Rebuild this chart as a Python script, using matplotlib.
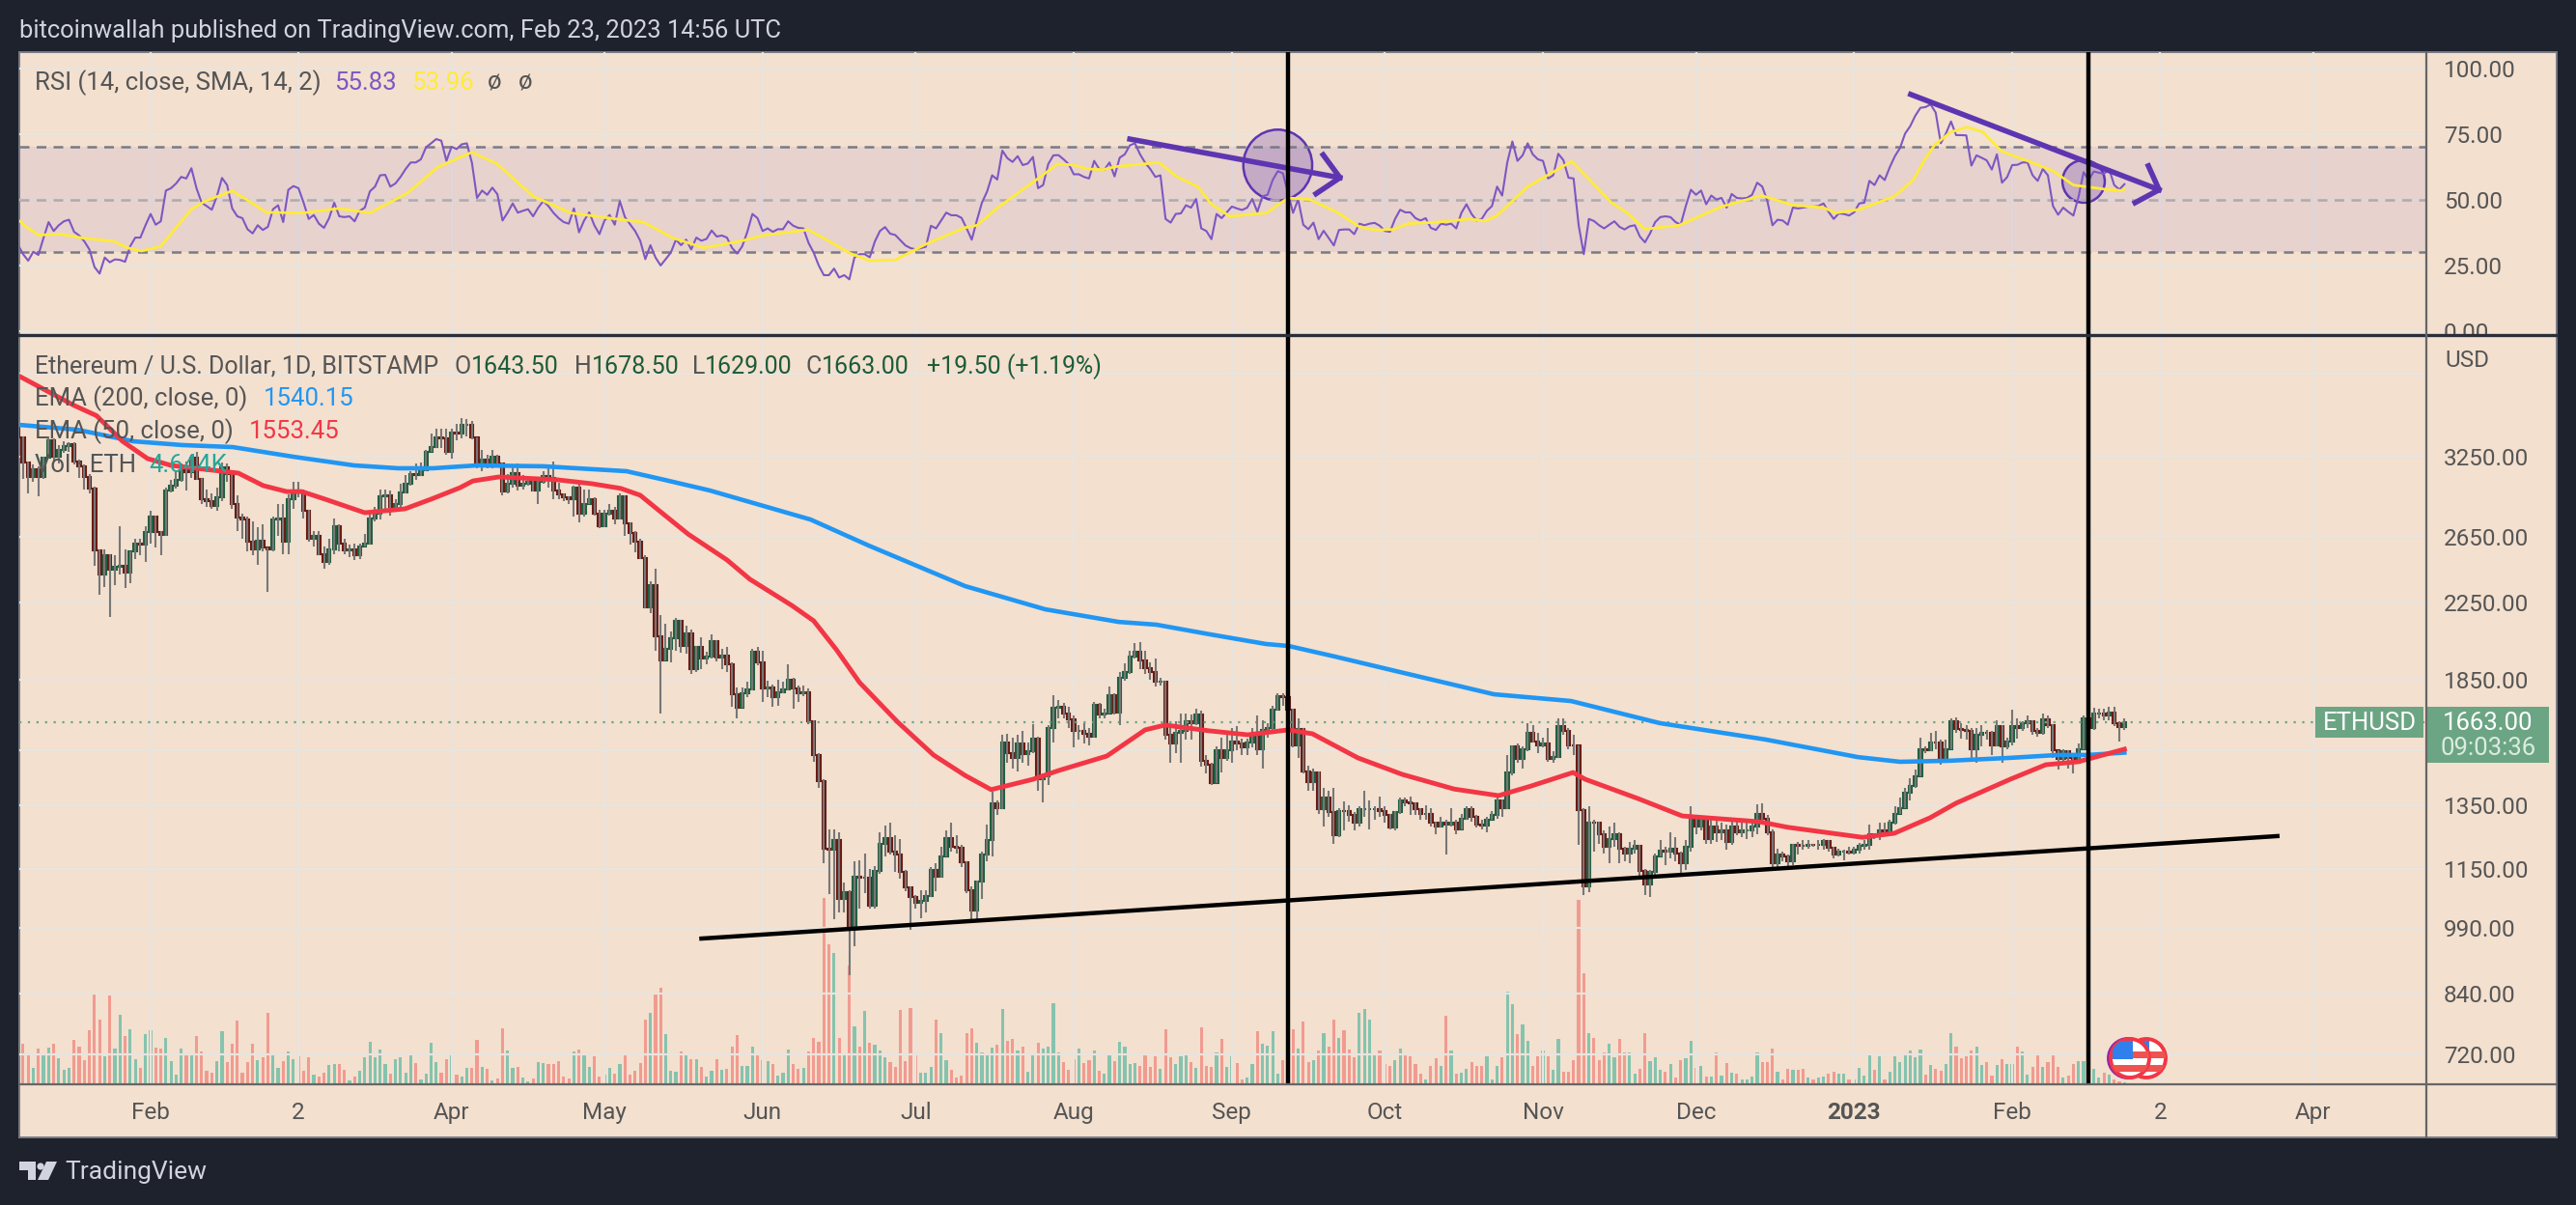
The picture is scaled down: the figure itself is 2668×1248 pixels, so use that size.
import pandas as pd
import matplotlib.pyplot as plt
from matplotlib.patches import Ellipse, Rectangle, Circle, Polygon

WIDTH, HEIGHT = 2668, 1248
DARK = '#1e222d'
PANEL = '#f3e0cf'
GRID = '#e9e4df'
TEXT = '#555555'
PURPLE = '#5e35b1'

plt.rcParams['font.family'] = 'Roboto'

# Daily candles from 2022-01-06 as (open, high, low, close)
candles = [
    (3530,3540,3300,3410),(3410,3415,3070,3200),(3200,3210,2960,3085),(3085,3180,3050,3145),(3145,3170,2940,3085),
    (3085,3250,3070,3237),(3237,3415,3230,3385),(3385,3400,3210,3245),(3245,3340,3190,3305),(3305,3375,3275,3335),
    (3335,3370,3290,3350),(3350,3365,3180,3210),(3210,3220,3080,3170),(3170,3180,2990,3085),(3085,3110,2960,2995),
    (2995,3010,2464,2565),(2565,2570,2290,2410),(2410,2570,2340,2535),(2535,2540,2170,2445),(2445,2530,2350,2460),
    (2460,2725,2415,2465),(2465,2570,2330,2425),(2425,2560,2360,2555),(2555,2640,2510,2605),(2605,2640,2530,2600),
    (2600,2725,2490,2685),(2685,2830,2610,2790),(2790,2800,2580,2685),(2685,2690,2530,2665),(2665,3000,2660,2985),
    (2985,3060,2965,3015),(3015,3130,2995,3060),(3060,3190,3050,3135),(3135,3210,2980,3125),(3125,3265,3080,3240),
    (3240,3290,3060,3070),(3070,3075,2880,2920),(2920,2990,2860,2900),(2900,2960,2850,2870),(2870,3000,2835,2930),
    (2930,3200,2905,3160),(3160,3190,3050,3110),(3110,3125,2850,2880),(2880,2942,2690,2785),(2785,2810,2640,2770),
    (2770,2790,2560,2620),(2620,2760,2535,2570),(2570,2720,2470,2630),(2630,2740,2560,2580),(2580,2585,2310,2570),
    (2570,2790,2555,2770),(2770,2880,2660,2780),(2780,2880,2540,2620),(2620,2950,2540,2920),(2920,3050,2850,2980),
    (2980,3050,2930,2965),(2965,2990,2780,2830),(2830,2840,2620,2640),(2640,2690,2590,2660),(2660,2690,2530,2540),
    (2540,2590,2447,2490),(2490,2640,2470,2572),(2572,2780,2540,2725),(2725,2740,2560,2610),(2610,2640,2540,2565),
    (2565,2600,2520,2570),(2570,2610,2500,2530),(2530,2610,2510,2590),(2590,2670,2590,2610),(2610,2810,2600,2775),
    (2775,2860,2760,2815),(2815,2990,2770,2940),(2940,2990,2830,2945),(2945,2980,2800,2860),(2860,2920,2850,2880),
    (2880,3030,2860,2965),(2965,3100,2960,3035),(3035,3130,3020,3105),(3105,3190,3060,3100),(3100,3200,3090,3135),
    (3135,3300,3130,3290),(3290,3440,3285,3325),(3325,3486,3320,3405),(3405,3485,3320,3400),(3400,3480,3260,3290),
    (3290,3480,3230,3450),(3450,3530,3380,3445),(3445,3580,3400,3515),(3515,3570,3420,3520),(3520,3550,3390,3405),
    (3405,3410,3150,3175),(3175,3300,3130,3225),(3225,3260,3150,3190),(3190,3300,3150,3250),(3250,3265,3170,3195),
    (3195,3200,2945,2973),(2973,3105,2960,3030),(3030,3180,3000,3115),(3115,3190,2980,3020),(3020,3100,2990,3030),
    (3030,3075,3015,3045),(3045,3070,2975,2985),(2985,3065,2880,3050),(3050,3130,3030,3095),(3095,3180,3000,3080),
    (3080,3210,2920,2985),(2985,3040,2920,2955),(2955,2960,2900,2930),(2930,2940,2880,2920),(2920,3020,2793,3005),
    (3005,3030,2750,2810),(2810,2990,2790,2880),(2880,2990,2880,2920),(2920,2930,2800,2810),(2810,2840,2710,2725),
    (2725,2840,2720,2815),(2815,2880,2800,2835),(2835,2860,2740,2780),(2780,2960,2770,2940),(2940,2945,2660,2745),
    (2745,2750,2600,2680),(2680,2690,2550,2620),(2620,2640,2510,2515),(2515,2530,2215,2220),(2220,2370,2190,2350),
    (2350,2450,1990,2065),(2065,2180,1700,1945),(1945,2130,1945,2000),(2000,2090,1935,2055),(2055,2165,1990,2145),
    (2145,2150,1980,2015),(2015,2120,1975,2080),(2080,2100,1880,1900),(1900,2015,1885,2010),(2010,2060,1900,1950),
    (1950,1985,1925,1960),(1960,2075,1950,2040),(2040,2045,1940,1955),(1955,2000,1900,1965),(1965,2010,1885,1925),
    (1925,1935,1728,1785),(1785,1813,1680,1725),(1725,1815,1725,1790),(1790,1840,1770,1808),(1808,2000,1800,1985),
    (1985,2010,1920,1935),(1935,1990,1750,1810),(1810,1845,1770,1815),(1815,1830,1730,1770),(1770,1850,1735,1793),
    (1793,1840,1790,1805),(1805,1925,1800,1850),(1850,1860,1720,1812),(1812,1825,1750,1787),(1787,1825,1775,1793),
    (1793,1810,1655,1665),(1665,1670,1505,1531),(1531,1540,1410,1432),(1432,1440,1166,1208),(1208,1268,1078,1205),
    (1205,1270,1012,1235),(1235,1260,1030,1065),(1065,1110,1030,1083),(1083,1090,880,994),(994,1170,945,1126),
    (1126,1175,1040,1125),(1125,1193,1080,1125),(1125,1150,1040,1048),(1048,1157,1040,1142),(1142,1260,1135,1225),
    (1225,1282,1185,1243),(1243,1290,1190,1200),(1200,1250,1140,1190),(1190,1240,1120,1140),(1140,1145,1085,1097),
    (1097,1100,985,1070),(1070,1075,1040,1055),(1055,1090,1015,1060),(1060,1090,1030,1072),(1072,1155,1070,1145),
    (1145,1165,1085,1127),(1127,1215,1125,1187),(1187,1265,1185,1243),(1243,1290,1200,1215),(1215,1250,1195,1213),
    (1213,1220,1155,1168),(1168,1170,1080,1090),(1090,1100,1002,1035),(1035,1115,1005,1112),(1112,1200,1065,1190),
    (1190,1285,1170,1237),(1237,1395,1185,1354),(1354,1365,1315,1340),(1340,1610,1335,1580),(1580,1615,1500,1540),
    (1540,1600,1480,1520),(1520,1610,1470,1577),(1577,1625,1500,1535),(1535,1580,1490,1545),(1545,1655,1540,1595),
    (1595,1605,1400,1440),(1440,1460,1360,1450),(1450,1650,1420,1637),(1637,1780,1580,1725),(1725,1760,1680,1730),
    (1730,1745,1680,1700),(1700,1730,1640,1673),(1673,1690,1560,1625),(1625,1650,1590,1625),(1625,1660,1575,1615),
    (1615,1640,1570,1605),(1605,1750,1600,1738),(1738,1745,1680,1697),(1697,1720,1680,1700),(1700,1820,1700,1780),
    (1780,1790,1695,1705),(1705,1885,1650,1860),(1860,1930,1845,1885),(1885,1990,1880,1960),(1960,2030,1950,1985),
    (1985,2035,1900,1945),(1945,1990,1880,1905),(1905,1935,1850,1885),(1885,1954,1820,1840),(1840,1860,1825,1840),
    (1840,1845,1590,1610),(1610,1640,1500,1577),(1577,1665,1540,1620),(1620,1700,1500,1627),(1627,1700,1590,1665),
    (1665,1695,1590,1660),(1660,1720,1650,1695),(1695,1710,1485,1510),(1510,1530,1460,1495),(1495,1500,1420,1425),
    (1425,1565,1425,1550),(1550,1600,1465,1520),(1520,1620,1510,1550),(1550,1640,1500,1585),(1585,1645,1550,1575),
    (1575,1595,1530,1560),(1560,1595,1530,1580),(1580,1640,1560,1615),(1615,1690,1530,1555),(1555,1670,1480,1630),
    (1630,1660,1600,1640),(1640,1735,1625,1715),(1715,1790,1710,1775),(1775,1790,1735,1770),(1770,1780,1690,1715),
    (1715,1720,1560,1570),(1570,1680,1520,1635),(1635,1640,1460,1470),(1470,1490,1400,1430),(1430,1480,1400,1465),
    (1465,1470,1320,1335),(1335,1410,1280,1375),(1375,1400,1310,1325),(1325,1410,1225,1250),(1250,1340,1245,1330),
    (1330,1362,1265,1328),(1328,1350,1295,1315),(1315,1325,1265,1290),(1290,1345,1280,1335),(1335,1400,1310,1335),
    (1335,1365,1270,1335),(1335,1345,1300,1335),(1335,1380,1310,1330),(1330,1345,1290,1315),(1315,1320,1270,1275),
    (1275,1330,1265,1325),(1325,1375,1320,1365),(1365,1375,1345,1358),(1358,1380,1315,1355),(1355,1360,1315,1335),
    (1335,1340,1300,1320),(1320,1350,1300,1320),(1320,1340,1280,1290),(1290,1295,1255,1277),(1277,1310,1275,1290),
    (1290,1300,1190,1285),(1285,1340,1280,1290),(1290,1300,1255,1270),(1270,1320,1270,1305),(1305,1345,1300,1335),
    (1335,1345,1295,1310),(1310,1315,1275,1285),(1285,1300,1270,1283),(1283,1310,1260,1300),(1300,1330,1300,1315),
    (1315,1375,1305,1365),(1365,1370,1310,1340),(1340,1530,1335,1465),(1465,1570,1455,1565),(1565,1575,1500,1515),
    (1515,1565,1480,1555),(1555,1660,1545,1620),(1620,1650,1580,1585),(1585,1620,1540,1570),(1570,1600,1560,1575),
    (1575,1640,1505,1515),(1515,1545,1500,1525),(1525,1680,1520,1645),(1645,1680,1610,1625),(1625,1640,1555,1568),
    (1568,1610,1530,1567),(1567,1570,1220,1333),(1333,1340,1075,1100),(1100,1345,1083,1292),(1292,1300,1200,1290),
    (1290,1295,1225,1255),(1255,1265,1195,1215),(1215,1280,1165,1240),(1240,1290,1215,1255),(1255,1260,1165,1210),
    (1210,1215,1170,1195),(1195,1230,1165,1210),(1210,1235,1195,1217),(1217,1220,1130,1142),(1142,1150,1075,1105),
    (1105,1145,1070,1140),(1140,1195,1130,1185),(1185,1235,1185,1204),(1204,1215,1160,1200),(1200,1260,1180,1208),
    (1208,1245,1170,1195),(1195,1200,1130,1165),(1165,1235,1145,1215),(1215,1345,1200,1300),(1300,1305,1255,1280),
    (1280,1310,1265,1300),(1300,1310,1225,1240),(1240,1300,1225,1280),(1280,1300,1230,1260),(1260,1290,1235,1265),
    (1265,1285,1205,1230),(1230,1295,1220,1280),(1280,1300,1250,1260),(1260,1295,1245,1265),(1265,1290,1240,1265),
    (1265,1295,1245,1280),(1280,1352,1255,1320),(1320,1355,1290,1305),(1305,1315,1250,1260),(1260,1270,1150,1165),
    (1165,1210,1155,1190),(1190,1200,1170,1187),(1187,1190,1150,1170),(1170,1225,1160,1220),(1220,1230,1190,1218),
    (1218,1235,1205,1217),(1217,1235,1210,1222),(1222,1225,1215,1220),(1220,1235,1205,1222),(1222,1240,1205,1233),
    (1233,1237,1200,1212),(1212,1215,1180,1190),(1190,1210,1185,1200),(1200,1205,1175,1200),(1200,1215,1190,1197),
    (1197,1215,1190,1205),(1205,1226,1195,1218),(1218,1235,1205,1220),(1220,1285,1205,1253),(1253,1258,1240,1252),
    (1252,1290,1235,1265),(1265,1290,1250,1262),(1262,1300,1260,1290),(1290,1345,1285,1320),(1320,1375,1320,1340),
    (1340,1410,1340,1392),(1392,1445,1365,1417),(1417,1475,1410,1450),(1450,1600,1450,1555),(1555,1565,1540,1550),
    (1550,1620,1545,1580),(1580,1625,1555,1578),(1578,1590,1495,1510),(1510,1590,1500,1555),(1555,1680,1555,1665),
    (1665,1685,1620,1635),(1635,1660,1595,1630),(1630,1650,1590,1625),(1625,1640,1520,1555),(1555,1640,1500,1610),
    (1610,1650,1565,1620),(1620,1630,1590,1618),(1618,1625,1530,1570),(1570,1670,1565,1645),(1645,1650,1500,1565),
    (1565,1600,1555,1585),(1585,1717,1570,1645),(1645,1680,1595,1640),(1640,1665,1625,1660),(1660,1690,1640,1665),
    (1665,1670,1610,1625),(1625,1640,1605,1620),(1620,1700,1610,1675),(1675,1690,1640,1650),(1650,1655,1520,1550),
    (1550,1550,1475,1515),(1515,1555,1510,1545),(1545,1550,1480,1520),(1520,1530,1460,1500),(1500,1575,1500,1555),
    (1555,1690,1555,1680),(1680,1742,1625,1640),(1640,1725,1630,1700),(1700,1720,1680,1700),(1700,1720,1670,1692),
    (1692,1730,1670,1705),(1705,1730,1645,1660),(1660,1665,1585,1643.5),(1643.5,1678.5,1629,1663),
]

# Volume in thousands of ETH, one value per candle
volume = [
    107,84,65,34,74,65,77,84,54,31,
    34,93,79,51,112,189,135,59,185,74,
    144,100,114,53,34,105,112,77,74,96,
    49,21,74,65,62,100,68,28,25,48,
    111,47,84,133,25,47,84,51,56,149,
    65,34,48,68,53,59,28,56,21,16,
    25,40,42,42,31,9,16,28,56,88,
    56,72,42,23,53,56,25,62,44,11,
    23,86,47,25,53,60,20,16,35,34,
    93,37,33,9,12,116,70,34,37,14,
    7,12,47,44,42,42,48,16,12,68,
    72,65,37,59,16,21,34,23,42,60,
    21,28,44,135,149,186,200,105,28,26,
    68,62,53,53,37,17,28,53,31,33,
    79,102,39,39,79,62,51,48,42,19,
    25,72,42,33,34,68,96,88,386,290,
    272,96,62,246,121,79,152,86,82,70,
    56,47,37,155,48,158,65,25,25,37,
    135,107,51,30,14,19,106,117,87,66,
    63,76,83,157,90,94,71,78,27,62,
    86,74,78,168,67,46,30,52,74,45,
    51,71,29,22,64,48,88,78,42,44,
    38,63,36,58,32,114,56,42,59,60,
    46,34,118,38,36,66,94,36,58,44,
    10,14,42,110,84,80,110,22,50,70,
    114,74,130,46,50,70,106,78,134,96,
    112,72,56,149,156,134,64,70,43,38,
    50,74,62,58,43,22,10,38,54,38,
    142,71,22,24,32,46,38,38,59,11,
    38,56,193,166,104,124,90,38,59,71,
    58,30,94,26,27,51,382,230,106,96,
    51,67,84,56,94,66,67,22,32,106,
    48,56,30,26,42,15,50,54,90,34,
    39,16,16,67,19,44,24,22,10,10,
    16,66,46,46,74,26,11,32,30,30,
    32,14,10,14,16,22,27,22,23,10,
    11,34,19,62,31,58,11,26,59,46,
    62,71,57,72,20,40,32,28,43,106,
    79,55,58,70,78,40,47,18,40,52,
    43,42,79,68,20,36,62,36,47,62,
    36,14,19,43,49,49,51,32,14,24,
    20,11,7,4,
]

rsi = [
    32.8,29.2,26.7,30.1,28.9,35.3,41.4,38,40.2,41.7,
    42.3,37.7,36.3,34.1,31,24.3,21.8,27.9,26.1,27.2,
    27,26.3,32.2,35.5,35.5,40.2,44.5,40.4,41.7,53.4,
    54.3,56.1,58.6,58,61.9,54.3,48.8,47.5,46.1,51.2,
    58.2,55.5,46.6,43.6,42.9,38.7,37.1,40.2,38.4,39.6,
    46.3,47.8,41.4,53.7,55.1,54.3,48.8,42.6,44.1,40.8,
    39.2,42.9,48.8,43.6,43.3,43.6,41.7,45.7,46.9,53.1,
    54.9,59.2,59.4,54.9,56.1,58.6,61.6,64.1,64.1,65.3,
    69.9,71.4,73,72.4,64.7,70.1,69.2,71,71.4,64,
    50.6,53.4,51.8,54.5,52,42,45,48.5,45,45.7,
    46.3,43.6,46.9,49.4,47.5,44.9,42.9,41.4,40.8,46.6,
    37.5,42,45.1,40.2,36.8,42,44.1,40.4,49.4,43.3,
    40.6,38,34.3,27.3,32.6,27.9,24.9,27.3,29.8,34.7,
    32.6,34.7,31,35.5,34.3,35,38.2,35.9,36.3,35.5,
    31.6,29.4,32.2,37.7,44.5,42.9,38,39,37.7,38.7,
    38.7,41.7,40,39.2,39,33.5,29.8,24.9,21.2,21.2,
    23.7,20.3,21.2,19.6,27.9,29.2,29.2,28,34,38,
    39.5,37,36.5,34.5,32.5,31.5,31,31.5,32,40,
    39,42,45,44,44,43,39,34.7,42,48.8,
    53,59.2,57.6,68.6,65.7,64.3,66.5,63.1,63.7,66.2,
    54.3,55.5,63.5,66.8,66.9,65.3,63.5,59.6,59.6,58.6,
    58,64.7,61.6,61.3,64.1,58.8,65.9,67.2,70.6,71.4,
    67.2,64,61.6,58.6,59.2,42.6,41.2,44.5,44.7,47.8,
    46.9,50.2,39,38,34.9,44.5,42.9,45.1,47.3,46.6,
    46,46.9,50.2,45.3,51.2,51.8,57.4,60.8,60,52.5,
    44.9,50,40.4,38.7,41.2,34.9,38.1,35.3,32.5,38.4,
    38.6,38.6,36.8,40.8,40.2,40.8,41.1,40,38,37.7,
    42.6,46.1,45.1,45.1,42.9,42,42.9,39.2,38.4,40.8,
    40.4,40.8,39,44.9,48.2,44.5,42,42.6,45.7,47.5,
    54.9,51.5,64.1,72.1,64.7,66.8,71.4,67.2,65.3,64.7,
    58,59.2,67.4,65,58.3,58,40.2,29.2,42.6,41.8,
    40.2,39,40.4,41.7,39.6,38.6,39.8,40.2,35.9,33.7,
    37.1,41.4,43.3,43.6,43.3,41.4,40.4,47.5,53.7,51.8,
    53.4,48.2,51.5,50,50.6,46.9,52.1,50.6,50.4,50.6,
    51.8,56.4,54.9,49.4,40.2,42.3,42,40.4,46.9,46.6,
    46.9,47.3,47.3,47.5,48.5,45.3,42.6,44.7,44.5,43.9,
    45.1,48.5,48.8,57.1,55.5,59.2,57.4,62.3,66.5,69.6,
    75.1,77.9,81.9,84.9,85.2,86.2,83.1,71.4,75.1,79.7,
    74.5,74.5,74.4,62.9,66.8,65.9,64.9,61.4,67.2,56.4,
    58.5,63.1,63.2,64.1,64.1,59.2,57.1,61.6,59.2,47.5,
    44.2,46.9,45.3,43.9,51,60.4,57.4,60.7,60.2,59.8,
    61.6,55.5,53.8,55.83,
]

# Smooth lines read at (bar number, value)
rsi_sma = [
    (0.4,41.7),(1.9,39.2),(4,36.5),(8.4,36.8),(12.8,35.3),(18.8,34.1),(21.5,31.6),(24.2,30.4),(28,32.2),
    (34,46.3),(36.7,49.4),(42,53.3),(44.8,50),(48.7,45.1),(56,44.9),(62.8,46.6),(69,44.9),(76.4,52.5),
    (82.3,62.3),(89,68),(94,63.5),(101,51.2),(108.4,44.9),(118,42.4),(122.6,41.4),(128.5,35.3),(134.5,31.6),
    (142,34.3),(146,36.3),(155,38.5),(163.3,29.4),(167,26.7),(172,27),(178,33),(185.7,39.3),(188.1,40.2),
    (191.7,46.3),(196.5,53.1),(199.6,57.4),(203.8,63.5),(206.8,63.2),(209.8,61.6),(212.8,61.4),(215.2,62.5),
    (223.7,64.1),(227.3,58.6),(231.3,54.9),(234,48.2),(237.6,43.6),(244.8,44.9),(249,50.6),(253.3,50),
    (258.7,45.1),(263,39.6),(266,38.4),(269.6,38.6),(272.6,40.8),(278.6,41.4),(284.6,42.6),(287.7,41.8),
    (290,43.9),(296,54.9),(304.6,64.5),(307.6,58.6),(312.4,48.8),(315.4,45.1),(319,38.7),(325.7,40.2),
    (334,47.3),(341.9,51.5),(347.9,47.9),(354,46.9),(356.4,44.9),(361.2,46.3),(367.9,51.2),(371.6,57.4),
    (373.7,64.7),(375.8,70.8),(378.9,75.6),(382.1,77.6),(385.2,75.7),(388.9,68.4),(393.6,65),(398.9,61),
    (403,55.5),(409.3,53.9),(412.4,53.4),(413,53.96),
]
ema_200 = [
    (0.4,3517),(11.6,3475),(22.6,3375),(32.2,3343),(42.1,3326),(54,3246),(65.9,3176),(74.6,3153),(81.3,3153),
    (90,3176),(103,3169),(119.3,3130),(126.8,3062),(135.6,2982),(143.5,2896),(155.4,2771),(166.8,2595),
    (185.7,2343),(201.4,2210),(215.8,2141),(223.2,2126),(233.9,2074),(244.7,2025),(249.1,2015),(258.2,1962),
    (272.5,1878),(289.4,1784),(304.5,1754),(321.9,1659),(342.6,1592),(360.7,1523),(369,1505),(378.7,1509),
    (390.6,1520),(400,1531),(405.8,1531),(413,1540.15),
]
ema_50 = [
    (0.4,3973),(11,3694),(15.4,3600),(20.5,3375),(25.4,3231),(30,3176),(38.1,3138),(43.2,3115),(48.1,3018),
    (52.7,2973),(55.7,2973),(60.2,2917),(68,2819),(75.9,2847),(81,2917),(86.7,3003),(89.2,3054),(94.3,3085),
    (105.7,3063),(112.5,3033),(118.2,2997),(122,2946),(125.5,2840),(131.4,2671),(139,2503),(143.5,2384),
    (151.7,2232),(156,2147),(160.5,1995),(165,1838),(172.5,1663),(179.5,1531),(185.7,1454),(190.8,1403),
    (199,1440),(204,1472),(213.5,1527),(221,1631),(224.9,1651),(233.6,1627),(241.1,1611),(249.1,1631),
    (253.8,1615),(262.7,1520),(271.4,1458),(281.6,1405),(290.3,1382),(296.7,1416),(304.9,1465),(307.3,1440),
    (317.6,1372),(326.3,1313),(341.4,1294),(347,1276),(361.7,1244),(367.9,1257),(374.9,1307),(380,1356),
    (390.6,1440),(397.6,1494),(403.9,1505),(413,1553.45),
]

def pane_axes(left, top, right, bottom):
    """Create an axes from its edges in picture pixels."""
    return plt.axes([left / WIDTH, 1 - bottom / HEIGHT, (right - left) / WIDTH, (bottom - top) / HEIGHT])

def month_ticks(start):
    """Return bar numbers and labels of the time axis."""
    months = [('2022-02-01', 'Feb'), ('2022-03-02', '2'), ('2022-04-01', 'Apr'), ('2022-05-01', 'May'),
              ('2022-06-01', 'Jun'), ('2022-07-01', 'Jul'), ('2022-08-01', 'Aug'), ('2022-09-01', 'Sep'),
              ('2022-10-01', 'Oct'), ('2022-11-01', 'Nov'), ('2022-12-01', 'Dec'), ('2023-01-01', '2023'),
              ('2023-02-01', 'Feb'), ('2023-03-02', '2'), ('2023-04-01', 'Apr')]
    return [(pd.Timestamp(day) - start).days for day, _ in months], [label for _, label in months]

def draw_rsi_pane(df, ticks, xlim):
    """Draw the RSI pane with the drawn trend lines and circles."""
    pane_axes(20, 54, 2513, 347)
    plt.gca().set_facecolor('none')
    plt.axhspan(30, 70, color='#7e57c2', alpha=0.1, lw=0)
    plt.axhline(70, color='#787b86', linestyle=(0, (4, 3)), lw=1.8)
    plt.axhline(50, color='#adaab0', linestyle=(0, (4, 3)), lw=1.8)
    plt.axhline(30, color='#787b86', linestyle=(0, (4, 3)), lw=1.8)
    plt.plot(df.index, df['rsi'], color='#7e57c2', lw=1.5)
    plt.plot(*zip(*rsi_sma), color='#ffeb3b', lw=2)

    # Hand drawn marks of the author
    for center, width, height in [((247, 63.1), 13.5, 27), ((405, 56.9), 8.3, 16.2)]:
        plt.gca().add_patch(Ellipse(center, width, height, facecolor=PURPLE, edgecolor='none', alpha=0.25))
        plt.gca().add_patch(Ellipse(center, width, height, facecolor='none', edgecolor=PURPLE, lw=1.8))
    plt.plot([218, 259.2], [73, 58.3], color=PURPLE, lw=4)
    plt.plot([255.9, 259.2, 254.5], [67, 58.3, 52.2], color=PURPLE, lw=4)
    plt.plot([371.1, 419.8], [90, 53.7], color=PURPLE, lw=4)
    plt.plot([417.7, 419.8, 415.1], [62.8, 53.7, 48.8], color=PURPLE, lw=4)
    plt.axvline(249.1, color='black', lw=3.2)
    plt.axvline(406, color='black', lw=3.2)

    plt.xlim(xlim)
    plt.ylim(-1.6, 106.1)
    plt.grid(True, color=GRID, lw=1.6)
    plt.gca().set_axisbelow(True)
    plt.xticks(ticks, [''] * len(ticks))
    plt.yticks([0, 25, 50, 75, 100], ['0.00', '25.00', '50.00', '75.00', '100.00'])
    plt.gca().yaxis.tick_right()
    plt.tick_params(axis='both', length=0, labelsize=17.5, labelcolor=TEXT, pad=13)
    for side in plt.gca().spines.values():
        side.set_visible(False)

def draw_price_pane(df, ticks, labels, xlim):
    """Draw volume, candles, moving averages and trend line on the log price scale."""
    # Volume sits behind the candles on its own scale
    pane_axes(20, 347, 2513, 1123)
    plt.gca().set_facecolor('none')
    vol_colors = ['#86c3ae' if up else '#f19b90' for up in df['close'] >= df['open']]
    plt.bar(df.index, df['volume'], width=0.6, color=vol_colors)
    plt.xlim(xlim)
    plt.ylim(0, 1552)
    plt.axis('off')

    pane_axes(20, 347, 2513, 1123)
    plt.gca().set_facecolor('none')
    up = df[df['close'] >= df['open']]
    down = df[df['close'] < df['open']]
    plt.axhline(1663, color='#6aa583', linestyle=(0, (1, 3)), lw=1.6)
    plt.vlines(df.index, df['low'], df['high'], color='#777777', lw=1.5)
    plt.bar(up.index, up['close'] - up['open'], bottom=up['open'], width=0.62,
            color='#5a9e7c', edgecolor='#1f5f3f', lw=1.5)
    plt.bar(down.index, down['open'] - down['close'], bottom=down['close'], width=0.62,
            color='#e0523c', edgecolor='#6a1a14', lw=1.5)
    plt.plot(*zip(*ema_200), color='#2196f3', lw=3.3)
    plt.plot(*zip(*ema_50), color='#f23645', lw=3.5)

    # Support line and the two marked days
    plt.plot([134, 443], [964, 1248], color='black', lw=3.2)
    plt.axvline(249.1, color='black', lw=3.2)
    plt.axvline(406, color='black', lw=3.2)

    plt.yscale('log')
    plt.xlim(xlim)
    plt.ylim(667.7, 4411)
    plt.grid(True, color=GRID, lw=1.6)
    plt.gca().set_axisbelow(True)
    plt.xticks(ticks, labels)
    prices = [720, 840, 990, 1150, 1350, 1550, 1850, 2250, 2650, 3250, 4000]
    plt.yticks(prices, [f'{p}.00' if p not in (1550, 4000) else '' for p in prices])
    plt.minorticks_off()
    plt.gca().yaxis.tick_right()
    plt.tick_params(axis='x', length=0, labelsize=17.5, labelcolor=TEXT, pad=13)
    plt.tick_params(axis='y', length=0, labelsize=17.5, labelcolor=TEXT, pad=13)
    for tick in plt.gca().get_xticklabels():
        if tick.get_text() == '2023':
            tick.set_fontweight('bold')
    for side in plt.gca().spines.values():
        side.set_visible(False)

def draw_texts():
    """Draw frame lines, legends, price label, event flags and logo in picture pixels."""
    pane_axes(0, 0, WIDTH, HEIGHT)
    plt.xlim(0, WIDTH)
    plt.ylim(HEIGHT, 0)
    plt.axis('off')
    plt.gca().set_zorder(5)

    # The lowest RSI label is cut off by the pane below it
    plt.gca().add_patch(Rectangle((2515, 347), 132, 18, color=PANEL, lw=0))
    plt.plot([20, 2648], [347, 347], color='#2a2e39', lw=2.4)
    plt.plot([20, 2648], [1123, 1123], color='#666666', lw=1.6)
    plt.plot([2513, 2513], [54, 1178], color='#666666', lw=1.6)

    plt.text(20, 32, 'bitcoinwallah published on TradingView.com, Feb 23, 2023 14:56 UTC', color='#d1d4dc',
             fontsize=18.4, va='center')
    row = dict(fontsize=18.5, va='center')
    plt.text(36, 86, 'RSI (14, close, SMA, 14, 2)', color=TEXT, **row)
    plt.text(346, 86, '55.83', color='#7e57c2', **row)
    plt.text(426, 86, '53.96', color='#ffeb3b', **row)
    plt.text(505, 86, 'ø', color=TEXT, **row)
    plt.text(537, 86, 'ø', color=TEXT, **row)
    plt.text(2532, 373, 'USD', color=TEXT, fontsize=17.5, va='center')

    plt.text(36, 380, 'Ethereum / U.S. Dollar, 1D, BITSTAMP', color=TEXT, fontsize=18, va='center')
    for x, letter, value in [(471, 'O', '1643.50'), (595, 'H', '1678.50'), (717, 'L', '1629.00'), (835, 'C', '1663.00')]:
        label = plt.text(x, 380, letter, color=TEXT, fontsize=18, va='center')
        width = label.get_window_extent(plt.gcf().canvas.get_renderer()).width
        plt.text(x + width, 380, value, color='#1d5c3a', fontsize=18, va='center')
    plt.text(960, 380, '+19.50 (+1.19%)', color='#1d5c3a', fontsize=18, va='center')
    plt.text(36, 413, 'EMA (200, close, 0)', color=TEXT, **row)
    plt.text(273, 413, '1540.15', color='#2196f3', **row)
    plt.text(36, 447, 'EMA (50, close, 0)', color=TEXT, **row)
    plt.text(258, 447, '1553.45', color='#f23645', **row)
    plt.text(36, 482, 'Vol · ETH', color=TEXT, **row)
    plt.text(154, 482, '4.644K', color='#26a69a', **row)

    # Last price label on the scale
    plt.gca().add_patch(Rectangle((2398, 732), 112, 32, color='#6ca584', lw=0))
    plt.gca().add_patch(Rectangle((2513, 732), 127, 58, color='#6ca584', lw=0))
    plt.text(2454, 749, 'ETHUSD', color='white', fontsize=18.5, ha='center', va='center')
    plt.text(2577, 749, '1663.00', color='white', fontsize=18.5, ha='center', va='center')
    plt.text(2577, 775, '09:03:36', color='#dcebe2', fontsize=18.5, ha='center', va='center')

    # Economic event flags
    for x, ring in [(2204, '#8e24aa'), (2223, '#f23645'), (2206, '#f23645')]:
        disc = Circle((x, 1096), 20, facecolor='white', edgecolor=ring, lw=2.8)
        plt.gca().add_patch(disc)
        for top, height, color in [(1089, 7, '#ef5350'), (1103, 7, '#ef5350'), (1078, 19, '#2f80ed')]:
            width = 21 if color == '#2f80ed' else 40
            stripe = Rectangle((x - 18, top), width, height, color=color, lw=0)
            plt.gca().add_patch(stripe)
            stripe.set_clip_path(disc)

    # TradingView logo
    plt.gca().add_patch(Polygon([(20, 1203), (37, 1203), (37, 1222), (29, 1222), (29, 1212), (20, 1212)], color='#d1d4dc', lw=0))
    plt.gca().add_patch(Circle((42, 1208), 3.6, color='#d1d4dc', lw=0))
    plt.gca().add_patch(Polygon([(48, 1203), (59, 1203), (50, 1222), (39, 1222)], color='#d1d4dc', lw=0))
    plt.text(67, 1214, 'TradingView', color='#d1d4dc', fontsize=19, va='center')

def plot_chart(rows, volumes, rsi_values, start_date):
    """Build the table of daily bars and draw the whole chart."""
    df = pd.DataFrame(rows, columns=['open', 'high', 'low', 'close'])
    df['volume'] = volumes
    df['rsi'] = rsi_values
    start = pd.Timestamp(start_date)
    ticks, labels = month_ticks(start)
    xlim = (0.26, 472.2)

    plt.figure(figsize=(WIDTH / 100, HEIGHT / 100), dpi=100, facecolor=DARK)

    # Page coloured block behind both panes and scales
    pane_axes(20, 54, 2648, 1178)
    plt.gca().set_facecolor(PANEL)
    plt.xticks([])
    plt.yticks([])
    for side in plt.gca().spines.values():
        side.set_color('#787b86')
        side.set_linewidth(1.4)

    draw_rsi_pane(df, ticks, xlim)
    draw_price_pane(df, ticks, labels, xlim)
    draw_texts()
    plt.savefig('out.png', dpi=100, facecolor=DARK)

# Specify parameters
start_date = '2022-01-06'

plot_chart(candles, volume, rsi, start_date)
